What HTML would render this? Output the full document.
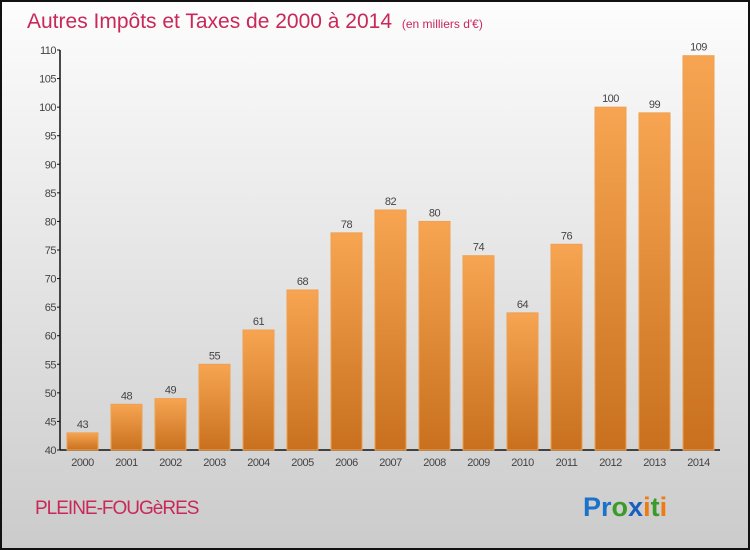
<!DOCTYPE html>
<html><head><meta charset="utf-8"><style>
body{margin:0;width:750px;height:550px;overflow:hidden;font-family:"Liberation Sans",sans-serif}
svg{display:block}
</style></head><body>
<svg width="750" height="550">
<defs>
<linearGradient id="bg" x1="0" y1="0" x2="0" y2="1"><stop offset="0" stop-color="#fdfdfd"/><stop offset="1" stop-color="#cbcbcb"/></linearGradient>
<linearGradient id="bar" x1="0" y1="0" x2="0" y2="1"><stop offset="0" stop-color="#f7a552"/><stop offset="1" stop-color="#c8701e"/></linearGradient>
</defs>
<rect x="1" y="1" width="748" height="548" fill="url(#bg)" stroke="#111" stroke-width="2"/>
<text x="27" y="28" font-size="21" fill="#c8285a">Autres Impôts et Taxes de 2000 à 2014 <tspan font-size="12" dx="4">(en milliers d'€)</tspan></text>
<g id="axes"></g>
<g id="bars"></g>
<text x="35" y="514" font-size="19" fill="#c8285a" letter-spacing="-1">PLEINE-FOUGèRES</text>
<text x="583" y="516" font-size="27" font-weight="bold"><tspan fill="#1a73c8">Pr</tspan><tspan fill="#3a9a2a">o</tspan><tspan fill="#1a5fc0">x</tspan><tspan fill="#f07a10">i</tspan><tspan fill="#3a9a2a">t</tspan><tspan fill="#f07a10">i</tspan></text>
</svg>
<script>
const years=["2000","2001","2002","2003","2004","2005","2006","2007","2008","2009","2010","2011","2012","2013","2014"];
const values=[43,48,49,55,61,68,78,82,80,74,64,76,100,99,109];
const yTicks=[40,45,50,55,60,65,70,75,80,85,90,95,100,105,110];
const NS="http://www.w3.org/2000/svg";
const y=v=>450-(v-40)*400/70;
const x=i=>82.5+i*44;
function mk(t,a,p){const e=document.createElementNS(NS,t);for(const k in a)e.setAttribute(k,a[k]);p.appendChild(e);return e;}
const ax=document.getElementById('axes'),bg=document.getElementById('bars');
const yl=mk('line',{x1:60,y1:y(110),x2:60,y2:450,stroke:'#111','stroke-width':1.5},ax);


const xl=mk('line',{x1:60,y1:450,x2:720,y2:450,stroke:'#111','stroke-width':1.5},ax);


yTicks.forEach(v=>{
 mk('line',{x1:57,x2:60,y1:y(v),y2:y(v),stroke:'#111'},ax);
 const t=mk('text',{x:56,y:y(v)+4,'font-size':11,fill:'#444','text-anchor':'end','letter-spacing':'-0.5'},ax);
 t.textContent=v;
 
 
});
values.forEach((v,i)=>{
 const r=mk('rect',{x:x(i)-15.5,y:y(v),width:31,height:450-y(v),fill:'url(#bar)',stroke:'#f0a050','stroke-width':1},bg);
 
 
 const l=mk('text',{x:x(i),y:y(v)-5,'font-size':11,fill:'#444','text-anchor':'middle','letter-spacing':'-0.5'},bg);
 l.textContent=v;
 
 
 const xt=mk('text',{x:x(i),y:466,'font-size':11,fill:'#444','text-anchor':'middle','letter-spacing':'-0.5'},bg);
 xt.textContent=years[i];
 
 
});
</script>
</body></html>
